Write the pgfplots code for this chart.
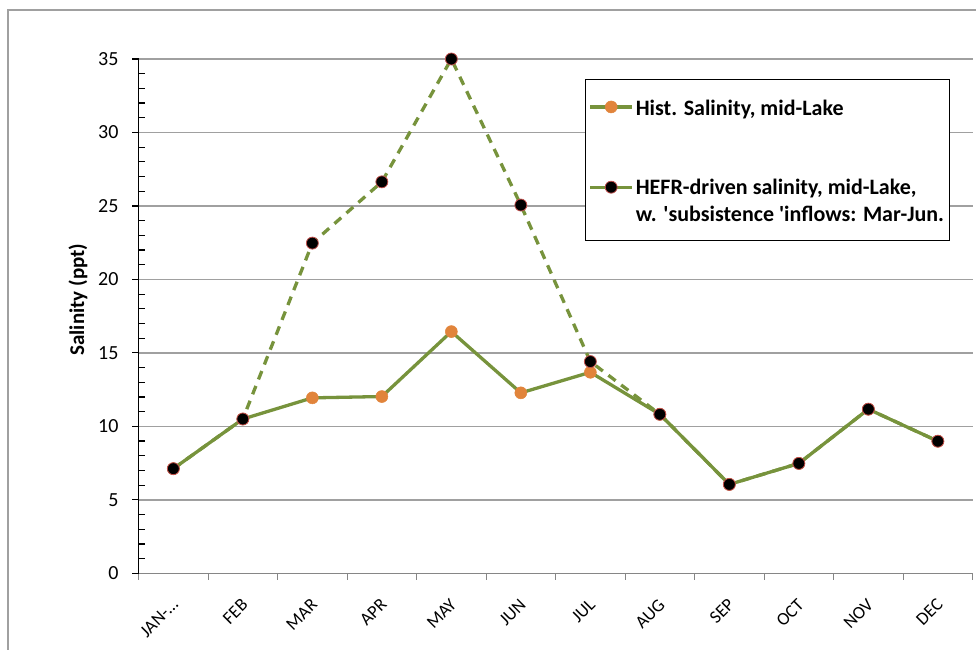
\documentclass[border=0pt]{standalone}
\usepackage{fontspec}
\setmainfont{Carlito}
\usepackage{pgfplots}
\pgfplotsset{compat=1.18}
\definecolor{olive}{RGB}{119,147,60}
\definecolor{morange}{RGB}{225,132,59}
\definecolor{mred}{RGB}{192,80,77}
\definecolor{gridgray}{RGB}{160,160,160}
\definecolor{axgray}{RGB}{134,134,134}
\pgfplotsset{
  baselegend/.style={legend image code/.code={\draw[##1, solid] (0pt,0pt) -- (42pt,0pt); \draw[##1, solid] plot[mark repeat=1] coordinates {(21pt,0pt)};}},
  hefrlegend/.style={legend image code/.code={\draw[##1, solid] (0pt,12pt) -- (42pt,12pt); \draw[##1, solid] plot[mark repeat=1] coordinates {(21pt,12pt)};}},
}
\begin{document}
\begin{tikzpicture}
\useasboundingbox (0pt,0pt) rectangle (976pt,649pt);
\draw[gridgray, line width=1.6pt] (8pt,-10pt) -- (8pt,639pt) -- (990pt,639pt);
\begin{axis}[
  at={(138.6pt,75.7pt)}, anchor=south west,
  width=834pt, height=514.3pt, scale only axis,
  xmin=-0.5, xmax=11.5, ymin=0, ymax=35,
  clip=false,
  axis x line*=bottom, axis y line*=left,
  x axis line style={axgray, line width=1.5pt},
  y axis line style={black, line width=1.5pt},
  xtick={-0.5,0.5,...,11.5},
  xticklabels={JAN-…,FEB,MAR,APR,MAY,JUN,JUL,AUG,SEP,OCT,NOV,DEC},
  x tick label as interval,
  x tick style={axgray, line width=1.2pt},
  y tick style={black, line width=1.2pt},
  tick align=outside,
  major tick length=6.5pt,
  minor tick length=6pt,
  every minor tick/.append style={xshift=6pt},
  ytick={0,5,...,35},
  minor y tick num=4,
  ymajorgrids,
  major grid style={gridgray, line width=1.4pt},
  /pgf/number format/assume math mode=true,
  yticklabel style={font=\fontsize{20}{24}\selectfont, anchor=east, inner sep=0pt, xshift=-13.5pt},
  xticklabel style={font=\fontsize{18}{22}\selectfont, inner sep=0pt, xshift=2pt, yshift=-22pt, rotate=45, anchor=east},
  ylabel={Salinity (ppt)},
  every axis y label/.style={at={(axis description cs:-0.0727,0.532)}, rotate=90, anchor=center, font=\fontsize{21}{25}\selectfont\bfseries},
  legend style={at={(axis description cs:0.5353,0.9617)}, anchor=north west, draw=black, line width=1pt,
    font=\fontsize{22}{26.4}\selectfont\bfseries, inner xsep=3pt, inner ysep=16pt, row sep=55pt,
    legend cell align=left},
]
\addplot[olive, line width=3.3pt, mark=*, mark size=6pt, mark options={fill=morange, draw=morange, line width=0.5pt, solid}, baselegend]
  coordinates {(0,7.12) (1,10.5) (2,11.94) (3,12.03) (4,16.45) (5,12.28) (6,13.68) (7,10.82) (8,6.05) (9,7.48) (10,11.17) (11,8.99)};
\addlegendentry{\rule{0pt}{18pt}Hist. Salinity, mid-Lake}
\addplot[olive, line width=3.3pt, dash pattern=on 9pt off 7pt, mark=*, mark size=6pt, mark options={fill=black, draw=mred, line width=0.8pt, solid}, hefrlegend]
  coordinates {(0,7.12) (1,10.5) (2,22.47) (3,26.64) (4,35.0) (5,25.06) (6,14.41) (7,10.82) (8,6.05) (9,7.48) (10,11.17) (11,8.99)};
\addlegendentry{\begin{tabular}[b]{@{}l@{}}HEFR-driven salinity, mid-Lake,\\[0.6pt] w. \textquotesingle subsistence \textquotesingle inflows: Mar-Jun.\rule[-13pt]{0pt}{13pt}\end{tabular}}
\end{axis}
\end{tikzpicture}
\end{document}
